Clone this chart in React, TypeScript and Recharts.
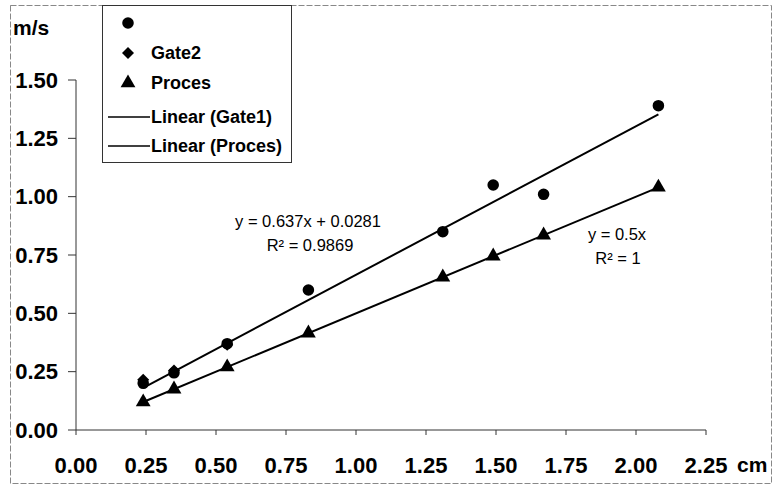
import { ScatterChart, Scatter, XAxis, YAxis, Symbols } from 'recharts'

const xTicks = [0, 0.25, 0.5, 0.75, 1, 1.25, 1.5, 1.75, 2, 2.25]
const yTicks = [0, 0.25, 0.5, 0.75, 1, 1.25, 1.5]

// distance (cm) and speed (m/s)
const distances = [0.24, 0.35, 0.54, 0.83, 1.31, 1.49, 1.67, 2.08]
const gate1Speeds = [0.2, 0.245, 0.37, 0.6, 0.85, 1.05, 1.01, 1.39]
const procesSpeeds = [0.12, 0.175, 0.27, 0.415, 0.655, 0.745, 0.835, 1.04]
const gate2Distances = [0.24, 0.35, 0.54]
const gate2Speeds = [0.215, 0.255, 0.365]

// trend line end points
const trendX = [0.24, 2.08]
const trendGate1 = [0.181, 1.353]
const trendProces = [0.12, 1.04]

const toPoints = (xs: number[], ys: number[]) => xs.map((x, i) => ({ x, y: ys[i] }))

const gate1Data = toPoints(distances, gate1Speeds)
const gate2Data = toPoints(gate2Distances, gate2Speeds)
const procesData = toPoints(distances, procesSpeeds)
const trendGate1Data = toPoints(trendX, trendGate1)
const trendProcesData = toPoints(trendX, trendProces)

const FONT = '"Liberation Sans", Arial, sans-serif'
const fmt = (v: number) => v.toFixed(2)
const noShape = () => <g />

const Diamond = ({ cx, cy, r = 6 }: { cx?: number; cy?: number; r?: number }) => {
  if (cx == null || cy == null) return <g />
  return <polygon points={`${cx},${cy - r} ${cx + r},${cy} ${cx},${cy + r} ${cx - r},${cy}`} fill="#000" />
}
const Dot = (p: any) => <Symbols cx={p.cx} cy={p.cy} type="circle" size={105} fill="#000" />
const Tri = (p: any) => <Symbols cx={p.cx} cy={p.cy} type="triangle" size={95} fill="#000" />

const tickStyle = { fill: '#000', fontSize: 22, fontWeight: 'bold' as const, fontFamily: FONT }

export default function App() {
  return (
    <div style={{ position: 'absolute', left: 0, top: 0, width: 773, height: 485, background: '#fff' }}>
      <ScatterChart width={773} height={485} margin={{ top: 80, right: 67, bottom: 0, left: 0 }}>
        <rect x={10.5} y={5.5} width={761} height={478} fill="none" stroke="#888" strokeDasharray="6 2" />
        <XAxis
          type="number"
          dataKey="x"
          domain={[0, 2.25]}
          ticks={xTicks}
          interval={0}
          tickFormatter={fmt}
          height={55}
          tickSize={5}
          tickMargin={22}
          stroke="#333"
          tick={tickStyle}
        />
        <YAxis
          type="number"
          dataKey="y"
          domain={[0, 1.5]}
          ticks={yTicks}
          interval={0}
          tickFormatter={fmt}
          width={76}
          tickSize={8}
          tickMargin={10}
          stroke="#333"
          tick={tickStyle}
        />
        <Scatter name="Linear (Gate1)" data={trendGate1Data} fill="#000" line={{ stroke: '#000', strokeWidth: 2 }} shape={noShape} isAnimationActive={false} />
        <Scatter name="Linear (Proces)" data={trendProcesData} fill="#000" line={{ stroke: '#000', strokeWidth: 2 }} shape={noShape} isAnimationActive={false} />
        <Scatter name="Gate2" data={gate2Data} fill="#000" shape={(p: any) => <Diamond cx={p.cx} cy={p.cy} />} isAnimationActive={false} />
        <Scatter name="Gate1" data={gate1Data} fill="#000" shape={Dot} isAnimationActive={false} />
        <Scatter name="Proces" data={procesData} fill="#000" shape={Tri} isAnimationActive={false} />

        <text x={13} y={35} fontFamily={FONT} fontSize={21} fontWeight="bold" fill="#000">m/s</text>
        <text x={737} y={472} fontFamily={FONT} fontSize={21} fontWeight="bold" fill="#000">cm</text>

        {/* legend */}
        <rect x={102.5} y={5.5} width={189} height={157} fill="#fff" stroke="#333" />
        <Symbols cx={128} cy={23} type="circle" size={105} fill="#000" />
        <Diamond cx={128} cy={53} r={6} />
        <Symbols cx={128} cy={83} type="triangle" size={95} fill="#000" />
        <line x1={108} y1={117} x2={150} y2={117} stroke="#000" strokeWidth={1.5} />
        <line x1={108} y1={146} x2={150} y2={146} stroke="#000" strokeWidth={1.5} />
        <g fontFamily={FONT} fontSize={18} fontWeight="bold" fill="#000">
          <text x={151} y={59}>Gate2</text>
          <text x={151} y={89}>Proces</text>
          <text x={151} y={123}>Linear (Gate1)</text>
          <text x={151} y={152}>Linear (Proces)</text>
        </g>

        {/* trend line equations */}
        <g fontFamily={FONT} fontSize={16.5} fill="#000" textAnchor="middle">
          <text x={308} y={227}>y = 0.637x + 0.0281</text>
          <text x={310} y={251}>R² = 0.9869</text>
          <text x={617} y={240}>y = 0.5x</text>
          <text x={618} y={264}>R² = 1</text>
        </g>
      </ScatterChart>
    </div>
  )
}
